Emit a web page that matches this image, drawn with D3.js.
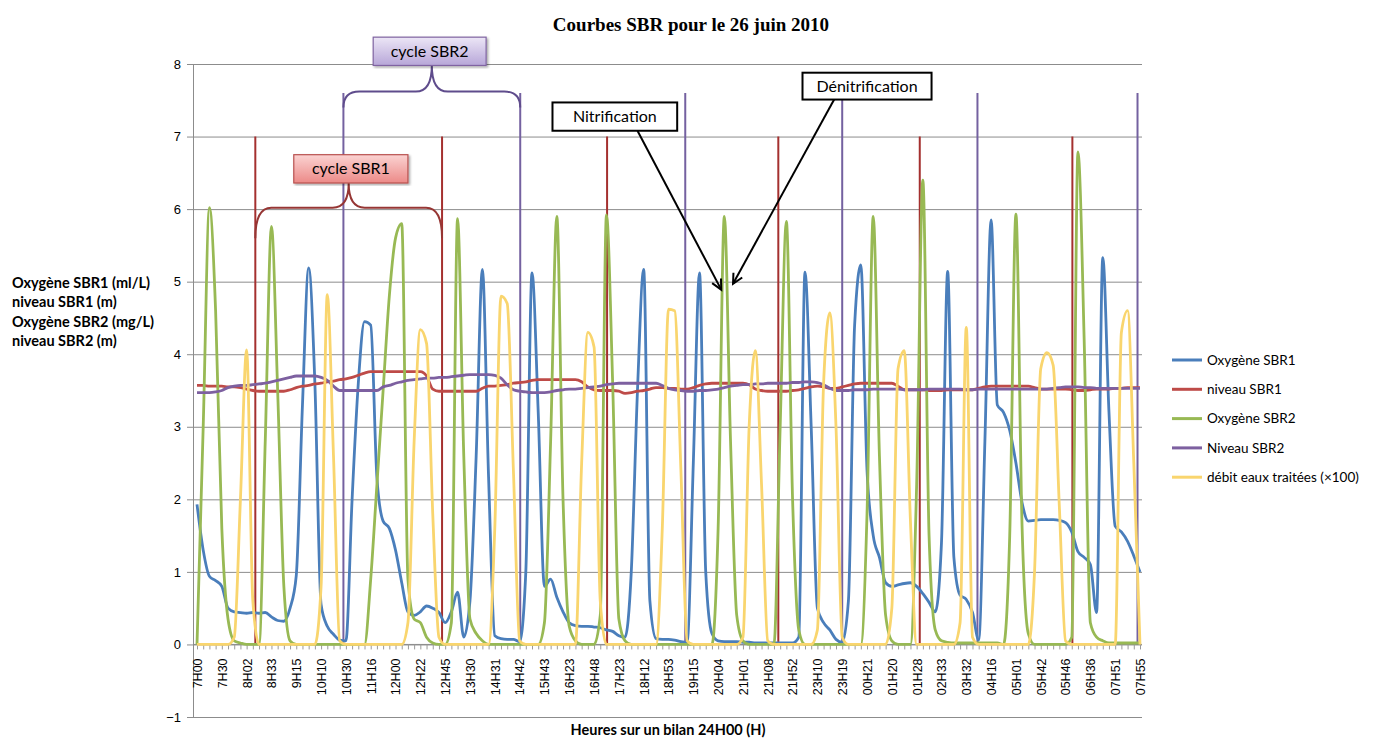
<!DOCTYPE html>
<html>
<head>
<meta charset="utf-8">
<script src="https://cdn.jsdelivr.net/npm/d3@7"></script>
<style>
  body { margin: 0; background: #fff; }
  svg { display: block; font-family: Lato, 'Open Sans', sans-serif; }
</style>
</head>
<body>
<svg id="chart" width="1379" height="738"></svg>
<script>
// tick labels (one every 4 samples)
const timeLabels = ['7H00', '7H30', '8H02', '8H33', '9H15', '10H10', '10H30', '11H16', '12H00', '12H22',
  '12H45', '13H30', '14H31', '14H42', '15H43', '16H23', '16H48', '17H23', '18H12', '18H53',
  '19H15', '20H04', '21H01', '21H08', '21H52', '23H10', '23H19', '00H21', '01H20', '01H28',
  '02H33', '03H32', '04H16', '05H01', '05H42', '05H46', '06H36', '07H51', '07H55'];

const oxySBR1 = [
  1.93, 1.3, 0.94, 0.88, 0.8, 0.5, 0.45, 0.44, 0.43, 0.44,
  0.43, 0.44, 0.38, 0.33, 0.32, 0.5, 0.95, 3.3, 5.19, 3.6,
  0.55, 0.25, 0.14, 0.06, 0.05, 2.0, 3.6, 4.45, 4.4, 2.3,
  1.7, 1.6, 1.3, 0.85, 0.45, 0.4, 0.45, 0.53, 0.5, 0.44,
  0.3, 0.45, 0.72, 0.1, 0.6, 2.6, 5.17, 2.3, 0.12, 0.08,
  0.07, 0.07, 0.04, 1.0, 5.12, 3.2, 0.8, 0.9, 0.65, 0.45,
  0.3, 0.26, 0.25, 0.25, 0.24, 0.23, 0.2, 0.18, 0.12, 0.1,
  1.0, 3.5, 5.17, 0.6, 0.08, 0.07, 0.07, 0.06, 0.04, 0.03,
  2.5, 5.12, 1.0, 0.15, 0.05, 0.04, 0.04, 0.04, 0.03, 0.03,
  0.02, 0.02, 0.02, 0.02, 0.02, 0.02, 0.02, 0.1, 5.13, 3.0,
  0.5, 0.3, 0.2, 0.07, 0.03, 0.6, 4.4, 5.23, 2.4, 1.5,
  1.2, 0.85, 0.8, 0.82, 0.84, 0.85, 0.8, 0.7, 0.58, 0.45,
  1.4, 5.14, 1.2, 0.68, 0.62, 0.44, 0.06, 2.8, 5.85, 3.3,
  3.2, 2.95, 2.5, 1.95, 1.7, 1.71, 1.72, 1.72, 1.72, 1.71,
  1.68, 1.55, 1.28, 1.2, 1.1, 0.44, 5.33, 3.2, 1.63, 1.55,
  1.42, 1.22, 1.0];

const levelSBR1 = [
  3.57, 3.57, 3.56, 3.56, 3.56, 3.55, 3.55, 3.54, 3.52, 3.5,
  3.49, 3.49, 3.49, 3.49, 3.49, 3.51, 3.54, 3.56, 3.57, 3.59,
  3.6, 3.62, 3.63, 3.65, 3.66, 3.68, 3.71, 3.74, 3.76, 3.76,
  3.76, 3.76, 3.76, 3.76, 3.76, 3.76, 3.76, 3.7, 3.52, 3.49,
  3.49, 3.49, 3.49, 3.49, 3.49, 3.49, 3.53, 3.56, 3.56, 3.57,
  3.58, 3.6, 3.61, 3.62, 3.64, 3.65, 3.65, 3.65, 3.65, 3.65,
  3.65, 3.65, 3.62, 3.55, 3.51, 3.5, 3.5, 3.5, 3.49, 3.46,
  3.47, 3.49, 3.5, 3.52, 3.54, 3.54, 3.53, 3.53, 3.52, 3.52,
  3.54, 3.57, 3.59, 3.6, 3.6, 3.6, 3.6, 3.6, 3.6, 3.58,
  3.52, 3.5, 3.49, 3.49, 3.49, 3.49, 3.5, 3.51, 3.53, 3.55,
  3.56, 3.55, 3.53, 3.53, 3.55, 3.57, 3.59, 3.6, 3.6, 3.6,
  3.6, 3.6, 3.6, 3.56, 3.51, 3.51, 3.51, 3.51, 3.5, 3.5,
  3.5, 3.51, 3.51, 3.51, 3.51, 3.51, 3.53, 3.55, 3.56, 3.56,
  3.56, 3.56, 3.56, 3.56, 3.56, 3.54, 3.52, 3.52, 3.52, 3.52,
  3.52, 3.51, 3.5, 3.5, 3.51, 3.52, 3.52, 3.52, 3.53, 3.53,
  3.54, 3.54, 3.54];

const oxySBR2 = [
  0, 3.0, 6.02, 4.6, 1.6, 0.35, 0.05, 0.02, 0, 0,
  0, 2.8, 5.76, 3.5, 0.8, 0.05, 0, 0, 0, 0,
  0, 0, 0, 0, 0, 0, 0, 0, 0.9, 2.2,
  3.5, 4.8, 5.6, 5.8, 0.9, 0.35, 0.3, 0.1, 0.02, 0,
  0, 0.3, 5.87, 2.6, 0.35, 0.15, 0.05, 0, 0, 0,
  0, 0, 0, 0, 0, 0, 0.3, 2.8, 5.9, 2.0,
  0.25, 0.05, 0, 0, 0, 0.4, 5.92, 3.6, 0.35, 0.05,
  0, 0, 0, 0, 0, 0, 0, 0, 0, 0,
  0, 0, 0, 0, 1.6, 5.9, 2.8, 0.4, 0.05, 0,
  0, 0, 0, 0, 3.0, 5.83, 2.0, 0.2, 0, 0,
  0, 0, 0, 0, 0, 0, 0, 0, 1.8, 5.9,
  2.6, 0.4, 0.05, 0, 0, 0, 2.2, 6.4, 1.5, 0.2,
  0.05, 0.03, 0.02, 0.02, 0.02, 0.02, 0.02, 0.02, 0.02, 0.02,
  0, 1.5, 5.93, 1.6, 0.15, 0, 0, 0, 0, 0,
  0, 0.1, 6.79, 4.2, 0.3, 0.1, 0.05, 0.02, 0.02, 0.02,
  0.02, 0.02, 0.02];

const levelSBR2 = [
  3.47, 3.47, 3.47, 3.48, 3.5, 3.54, 3.56, 3.57, 3.57, 3.58,
  3.59, 3.6, 3.62, 3.64, 3.66, 3.68, 3.7, 3.7, 3.7, 3.7,
  3.68, 3.64, 3.56, 3.5, 3.5, 3.5, 3.5, 3.5, 3.5, 3.5,
  3.55, 3.57, 3.6, 3.62, 3.64, 3.65, 3.66, 3.67, 3.67, 3.68,
  3.68, 3.69, 3.7, 3.71, 3.72, 3.72, 3.72, 3.72, 3.71, 3.67,
  3.58, 3.51, 3.49, 3.48, 3.47, 3.47, 3.47, 3.48, 3.5, 3.51,
  3.52, 3.52, 3.53, 3.54, 3.55, 3.56, 3.58, 3.59, 3.6, 3.6,
  3.6, 3.6, 3.6, 3.6, 3.6, 3.57, 3.53, 3.51, 3.5, 3.49,
  3.49, 3.5, 3.5, 3.51, 3.52, 3.54, 3.56, 3.57, 3.58, 3.58,
  3.59, 3.59, 3.6, 3.6, 3.6, 3.6, 3.61, 3.61, 3.62, 3.62,
  3.61, 3.58, 3.53, 3.5, 3.5, 3.5, 3.51, 3.51, 3.51, 3.52,
  3.52, 3.52, 3.52, 3.52, 3.51, 3.51, 3.51, 3.51, 3.52, 3.52,
  3.52, 3.52, 3.52, 3.52, 3.51, 3.51, 3.52, 3.52, 3.52, 3.52,
  3.52, 3.52, 3.52, 3.52, 3.52, 3.52, 3.52, 3.52, 3.53, 3.54,
  3.55, 3.55, 3.55, 3.54, 3.54, 3.53, 3.53, 3.53, 3.53, 3.53,
  3.53, 3.53, 3.53];

// débit eaux traitées, already x100
const debit = [
  0, 0, 0, 0, 0, 0, 0.1, 2.0, 4.06, 0.6,
  0, 0, 0, 0, 0, 0, 0, 0, 0, 0,
  0.8, 4.82, 2.6, 0.05, 0, 0, 0, 0, 0, 0,
  0, 0, 0, 0, 0.3, 2.8, 4.34, 4.15, 1.8, 0.1,
  0, 0, 0, 0, 0, 0, 0, 0, 1.6, 4.8,
  4.7, 2.4, 0.05, 0, 0, 0, 0, 0, 0, 0,
  0, 0, 2.5, 4.3, 4.1, 0.6, 0, 0, 0, 0,
  0, 0, 0, 0, 0, 1.6, 4.62, 4.6, 2.4, 0.05,
  0, 0, 0, 0, 0, 0, 0, 0, 0.1, 3.0,
  4.05, 2.2, 0.05, 0, 0, 0, 0, 0, 0, 0,
  0.2, 3.6, 4.57, 3.0, 0.1, 0, 0, 0, 0, 0,
  0, 0, 0.5, 3.8, 4.05, 1.7, 0, 0, 0, 0,
  0, 0, 0, 0.3, 4.37, 0.1, 0, 0, 0, 0,
  0, 0, 0, 0, 0, 1.0, 3.8, 4.02, 3.85, 1.9,
  0.05, 0, 0, 0, 0, 0, 0, 0, 0, 4.3,
  4.6, 2.5, 0];

// cycle start markers (sample position) and their height
const cycleMarksSBR1 = [9.4, 39.5, 66.1, 93.7, 116.5, 141.1];
const cycleMarksSBR2 = [23.6, 52.1, 78.7, 104, 125.8, 151.6];
const markTopSBR1 = 7.0;
const markTopSBR2 = 7.6;

const seriesNames = ['Oxygène SBR1', 'niveau SBR1', 'Oxygène SBR2', 'Niveau SBR2', 'débit eaux traitées (×100)'];
const seriesColors = ['#4a7ebb', '#be4b48', '#98b954', '#7d60a0', '#f9d56e'];
const seriesData = [oxySBR1, levelSBR1, oxySBR2, levelSBR2, debit];

const svg = d3.select('#chart');
const x = d3.scaleLinear().domain([0, oxySBR1.length - 1]).range([197, 1140]);
const y = d3.scaleLinear().domain([-1, 8]).range([717, 64]);

const defs = svg.append('defs');
const g1 = defs.append('linearGradient').attr('id', 'gradRed').attr('x1', 0).attr('y1', 0).attr('x2', 0).attr('y2', 1);
g1.append('stop').attr('offset', '0%').attr('stop-color', '#fbd3d2');
g1.append('stop').attr('offset', '100%').attr('stop-color', '#ec8a88');
const g2 = defs.append('linearGradient').attr('id', 'gradPurple').attr('x1', 0).attr('y1', 0).attr('x2', 0).attr('y2', 1);
g2.append('stop').attr('offset', '0%').attr('stop-color', '#ece6f6');
g2.append('stop').attr('offset', '100%').attr('stop-color', '#b7a6d8');
defs.append('filter').attr('id', 'shadow')
  .append('feDropShadow').attr('dx', 1.5).attr('dy', 1.5).attr('stdDeviation', 1.2).attr('flood-opacity', 0.35);
defs.append('marker')
  .attr('id', 'arrow')
  .attr('refX', 11)
  .attr('refY', 6)
  .attr('markerWidth', 14)
  .attr('markerHeight', 14)
  .attr('markerUnits', 'userSpaceOnUse')
  .attr('orient', 'auto')
  .append('path')
  .attr('d', 'M 1 1 L 11 6 L 1 11')
  .attr('fill', 'none')
  .attr('stroke', '#000')
  .attr('stroke-width', 2);

// title
svg.append('text')
  .attr('x', 691).attr('y', 31)
  .attr('text-anchor', 'middle')
  .style('font-family', "'Liberation Serif', 'Times New Roman', serif")
  .style('font-weight', 'bold')
  .style('font-size', '19px')
  .text('Courbes SBR pour le 26 juin 2010');

// grid lines
svg.append('g')
  .attr('transform', 'translate(193,0)')
  .call(d3.axisLeft(y).tickValues(d3.range(-1, 9)).tickSize(-(1142 - 193)).tickFormat(''))
  .call(g => g.select('.domain').remove())
  .call(g => g.selectAll('line').attr('stroke', '#8c8c8c'));

// y axis
const yAxis = svg.append('g')
  .attr('transform', 'translate(193,0)')
  .call(d3.axisLeft(y).tickValues(d3.range(-1, 9)).tickSize(6).tickPadding(6).tickFormat(d3.format('d')));
yAxis.select('.domain').attr('stroke', '#8c8c8c');
yAxis.selectAll('line').attr('stroke', '#8c8c8c');
yAxis.selectAll('text').style('font-size', '13px').attr('fill', '#000');

// x axis: minor ticks for each sample, labels every 4 samples
const xMinor = svg.append('g')
  .attr('transform', 'translate(0,' + y(0) + ')')
  .call(d3.axisBottom(x).tickValues(d3.range(0, oxySBR1.length)).tickSize(5).tickFormat(''));
xMinor.select('.domain').attr('stroke', '#8c8c8c').attr('d', 'M193,0H1142');
xMinor.selectAll('line').attr('stroke', '#9a9a9a');

const xLabels = svg.append('g')
  .attr('transform', 'translate(0,' + y(0) + ')')
  .call(d3.axisBottom(x).tickValues(timeLabels.map((d, i) => i * 4)).tickSize(0).tickFormat((d, i) => timeLabels[i]));
xLabels.select('.domain').remove();
xLabels.selectAll('text')
  .attr('transform', 'rotate(-90)')
  .attr('text-anchor', 'end')
  .attr('x', -14)
  .attr('y', 0)
  .attr('dy', '0.35em')
  .style('font-size', '12.5px')
  .attr('fill', '#000');

// axis titles
svg.append('text')
  .attr('x', 668).attr('y', 735)
  .attr('text-anchor', 'middle')
  .style('font-weight', 'bold')
  .style('font-size', '14.5px')
  .text('Heures sur un bilan 24H00 (H)');

const yTitle = ['Oxygène SBR1 (ml/L)', 'niveau SBR1 (m)', 'Oxygène SBR2 (mg/L)', 'niveau SBR2 (m)'];
svg.append('g').selectAll('text')
  .data(yTitle)
  .enter()
  .append('text')
  .attr('x', 12)
  .attr('y', (d, i) => 288 + i * 19.3)
  .style('font-weight', 'bold')
  .style('font-size', '14.5px')
  .text(d => d);

// cycle marker lines
svg.append('g').selectAll('line')
  .data(cycleMarksSBR1)
  .enter()
  .append('line')
  .attr('x1', d => x(d)).attr('x2', d => x(d))
  .attr('y1', y(0)).attr('y2', y(markTopSBR1))
  .attr('stroke', '#a4302f').attr('stroke-width', 2);
svg.append('g').selectAll('line')
  .data(cycleMarksSBR2)
  .enter()
  .append('line')
  .attr('x1', d => x(d)).attr('x2', d => x(d))
  .attr('y1', y(0)).attr('y2', y(markTopSBR2))
  .attr('stroke', '#7461a0').attr('stroke-width', 2);

// series
const line = d3.line()
  .x((d, i) => x(i))
  .y(d => y(d))
  .curve(d3.curveMonotoneX);

svg.append('g').selectAll('path')
  .data(seriesData)
  .enter()
  .append('path')
  .attr('d', d => line(d))
  .attr('fill', 'none')
  .attr('stroke', (d, i) => seriesColors[i])
  .attr('stroke-width', 2.8)
  .attr('stroke-linejoin', 'round');

// braces over the cycles
function brace(x1, x2, yh, yEnd, yTip) {
  const xm = (x1 + x2) / 2;
  const r = 16;
  return 'M' + x1 + ',' + yEnd +
    ' Q' + x1 + ',' + yh + ' ' + (x1 + r) + ',' + yh +
    ' L' + (xm - r) + ',' + yh +
    ' Q' + xm + ',' + yh + ' ' + xm + ',' + yTip +
    ' Q' + xm + ',' + yh + ' ' + (xm + r) + ',' + yh +
    ' L' + (x2 - r) + ',' + yh +
    ' Q' + x2 + ',' + yh + ' ' + x2 + ',' + yEnd;
}
const cycles = [
  { label: 'cycle SBR1', from: cycleMarksSBR1[0], to: cycleMarksSBR1[1], level: 6.02, end: 5.6, tip: 6.36,
    box: [15.6, 34, 6.75, 6.36], fill: 'url(#gradRed)', stroke: '#b9514f', braceColor: '#963634' },
  { label: 'cycle SBR2', from: cycleMarksSBR2[0], to: cycleMarksSBR2[1], level: 7.62, end: 7.4, tip: 7.98,
    box: [28.4, 46.6, 8.37, 7.98], fill: 'url(#gradPurple)', stroke: '#8064a2', braceColor: '#5f4c8c' }
];
cycles.forEach(c => {
  svg.append('path')
    .attr('d', brace(x(c.from), x(c.to), y(c.level), y(c.end), y(c.tip)))
    .attr('fill', 'none')
    .attr('stroke', c.braceColor)
    .attr('stroke-width', 2);
  svg.append('rect')
    .attr('x', x(c.box[0])).attr('y', y(c.box[2]))
    .attr('width', x(c.box[1]) - x(c.box[0]))
    .attr('height', y(c.box[3]) - y(c.box[2]))
    .attr('fill', c.fill)
    .attr('stroke', c.stroke)
    .attr('stroke-width', 1.2)
    .attr('filter', 'url(#shadow)');
  svg.append('text')
    .attr('x', (x(c.box[0]) + x(c.box[1])) / 2)
    .attr('y', (y(c.box[2]) + y(c.box[3])) / 2 + 5.5)
    .attr('text-anchor', 'middle')
    .style('font-size', '16px')
    .text(c.label);
});

// callouts
const callouts = [
  { label: 'Nitrification', box: [57.3, 77.4, 7.47, 7.08], from: [71, 7.08], to: [84.5, 4.89] },
  { label: 'Dénitrification', box: [97.6, 118.4, 7.88, 7.51], from: [102.7, 7.51], to: [86.4, 4.97] }
];
callouts.forEach(c => {
  svg.append('line')
    .attr('x1', x(c.from[0])).attr('y1', y(c.from[1]))
    .attr('x2', x(c.to[0])).attr('y2', y(c.to[1]))
    .attr('stroke', '#000')
    .attr('stroke-width', 2)
    .attr('marker-end', 'url(#arrow)');
  svg.append('rect')
    .attr('x', x(c.box[0])).attr('y', y(c.box[2]))
    .attr('width', x(c.box[1]) - x(c.box[0]))
    .attr('height', y(c.box[3]) - y(c.box[2]))
    .attr('fill', '#fff')
    .attr('stroke', '#000')
    .attr('stroke-width', 2);
  svg.append('text')
    .attr('x', (x(c.box[0]) + x(c.box[1])) / 2)
    .attr('y', (y(c.box[2]) + y(c.box[3])) / 2 + 5.5)
    .attr('text-anchor', 'middle')
    .style('font-size', '16px')
    .text(c.label);
});

// legend
const legend = svg.append('g').attr('transform', 'translate(1172,360)');
const item = legend.selectAll('g')
  .data(seriesNames)
  .enter()
  .append('g')
  .attr('transform', (d, i) => 'translate(0,' + i * 29.3 + ')');
item.append('line')
  .attr('x1', 0).attr('x2', 30)
  .attr('stroke', (d, i) => seriesColors[i])
  .attr('stroke-width', 3);
item.append('text')
  .attr('x', 35)
  .attr('dy', '0.35em')
  .style('font-size', '13.5px')
  .text(d => d);
</script>
</body>
</html>
